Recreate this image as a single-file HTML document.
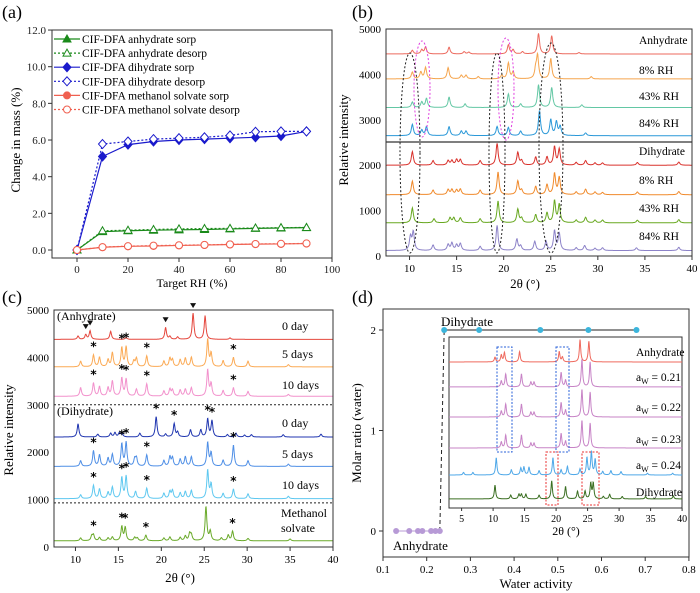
<!DOCTYPE html>
<html><head><meta charset="utf-8"><style>
body{margin:0;background:#fff}
svg{display:block;font-family:"Liberation Serif",serif}
</style></head><body>
<svg id="fig" width="700" height="593" viewBox="0 0 700 593"></svg>
<script>
// ---- Panel (a) data ----
const rhX=[0,10,20,30,40,50,60,70,80,90];
const anhSorp=[0,1.0,1.05,1.08,1.1,1.12,1.15,1.18,1.2,1.22];
const anhDesorp=[0,1.05,1.08,1.12,1.15,1.17,1.18,1.2,1.22,1.23];
const diSorp=[0,5.1,5.75,5.92,6.0,6.05,6.1,6.15,6.22,6.47];
const diDesorp=[0,5.78,5.92,6.05,6.1,6.15,6.25,6.45,6.47,6.47];
const mSorp=[0,0.15,0.2,0.22,0.25,0.27,0.3,0.32,0.33,0.35];
const mDesorp=[0,0.16,0.21,0.24,0.26,0.28,0.31,0.33,0.34,0.36];
const aXTicks=[0,20,40,60,80,100];
const aYTicks=[0,2,4,6,8,10,12];
// ---- Panel (b) data ----
const bOffsets=[4450,3900,3270,2650,2000,1350,730,120];
const bLabels=["Anhydrate","8% RH","43% RH","84% RH","Dihydrate","8% RH","43% RH","84% RH"];
const bPeaks=[
[[10.3,80],[11.3,90],[11.7,150],[14.2,150],[15.8,50],[16.3,40],[20.5,200],[21,90],[22,50],[23.7,450],[25.1,400],[28,30]],
[[10.3,150],[11.2,150],[11.7,250],[14.1,250],[15.5,80],[16,80],[17.3,50],[19.8,80],[20.5,350],[21,150],[23.4,200],[23.6,500],[25,450],[29.3,50]],
[[10.3,120],[11.3,120],[11.8,200],[14.2,230],[15.9,80],[20.5,300],[21.8,80],[23.7,500],[25.1,440],[28.3,60]],
[[10.3,250],[11.3,120],[11.8,200],[14.2,200],[15.5,100],[16,100],[19.3,200],[20.5,180],[21.8,100],[23.8,550],[25,350],[25.6,300],[26,200],[28.7,60]],
[[10.3,300],[12.5,100],[14.1,100],[14.5,100],[15,120],[15.4,120],[17.5,100],[19.3,480],[21.5,280],[21.9,100],[23.4,180],[24.6,180],[25.4,400],[25.9,350],[27.7,60],[28.7,100],[29.7,50],[30.5,50],[34.2,60],[38.6,70]],
[[10.3,300],[12.5,100],[14.1,110],[14.5,110],[15,100],[15.4,120],[17.5,100],[19.4,500],[21.5,300],[21.9,100],[23.4,180],[24.6,220],[25.4,460],[25.9,380],[27.7,60],[28.7,120],[29.7,60],[30.5,50],[34.2,60],[38.6,70]],
[[10.3,330],[12.6,90],[14.3,110],[14.7,110],[15.4,110],[17.5,90],[19.4,480],[21.5,300],[21.9,100],[23.4,180],[24.6,220],[25.4,480],[25.9,400],[27.7,60],[28.7,120],[29.7,60],[30.5,60],[34.2,60],[38.6,70]],
[[10.1,300],[10.4,400],[12.5,120],[14.1,130],[14.5,160],[15,120],[15.4,150],[17.5,90],[19.3,550],[21.4,250],[21.8,100],[23.3,200],[24.5,200],[25.4,430],[25.9,380],[27.7,60],[28.6,110],[29.7,50],[30.5,60],[34.1,60],[38.6,70]]
];
const bColors=["#ec6a5e","#f5a54e","#63c7a4","#2a98d8","#d9322c","#f08a2c","#68a820","#8c82c8"];
const bYTicks=[0,1000,2000,3000,4000,5000];
const xrdTicks=[10,15,20,25,30,35,40];
// ---- Panel (c) data ----
const cOffsets=[4380,3800,3180,2320,1700,1020,130];
const cLabels=["0 day","5 days","10 days","0 day","5 days","10 days","Methanol"];
const solv=[[10.6,120],[12.1,250],[12.8,200],[13.8,150],[14.3,300],[15.4,400],[15.9,420],[16.8,120],[17.1,180],[18.3,230],[20.3,120],[21,180],[21.3,150],[22.2,150],[22.8,180],[23.5,200],[25.4,580],[25.8,280],[27.2,130],[28.4,200],[30.1,120],[34.8,50]];
const cPeaks=[
[[10.3,70],[11.2,100],[11.7,180],[14.1,170],[15.9,40],[20.5,250],[21,60],[21.9,50],[23.7,550],[25.1,500],[28,30]],
solv,
[[10.6,180],[12.1,280],[12.8,200],[13.8,180],[14.3,320],[15.4,380],[15.9,360],[17.1,150],[18.3,260],[20.3,110],[21,150],[21.3,130],[22.2,130],[22.8,150],[23.5,180],[25.4,560],[25.8,260],[27.2,120],[28.4,180],[30.1,100],[34.8,40]],
[[10.3,280],[12.6,60],[14.1,80],[14.6,90],[15.1,80],[15.4,90],[17.5,80],[19.4,430],[20.5,60],[21.5,280],[21.9,100],[23.4,150],[24.6,150],[25.4,380],[25.9,340],[27.7,50],[28.7,80],[29.7,40],[30.5,50],[34.2,50],[38.6,60]],
[[10.6,120],[12.1,330],[12.8,240],[13.8,170],[14.3,250],[15.4,470],[15.9,500],[16.9,150],[17.1,170],[18.3,240],[20.3,120],[21,200],[21.3,180],[22.2,150],[22.8,200],[23.5,200],[25.4,500],[25.8,280],[27.2,130],[28.4,450],[30.1,120],[34.8,50]],
[[10.6,80],[12.1,280],[12.8,200],[13.8,130],[14.3,240],[15.4,440],[15.9,470],[17,150],[18.3,220],[20.3,110],[21,150],[21.3,170],[22.2,120],[22.8,150],[23.5,170],[25.4,600],[25.8,300],[27.2,110],[28.4,200],[30.1,100],[34.8,50]],
[[10.6,60],[11.9,100],[12.1,120],[12.8,70],[13.8,60],[14.3,80],[15.4,300],[15.8,280],[16.9,70],[17.2,60],[18.2,120],[20.3,60],[21,80],[22.2,70],[22.8,100],[23.3,150],[23.5,120],[25.2,720],[25.7,200],[27,60],[27.8,120],[28.3,200],[30.1,50],[35,40]]
];
const cColors=["#e5473d","#fbaa55","#f291cc","#2036b0","#4f8fe6","#5ec8f0","#6aaa2a"];
const cStars=[[],[12.1,15.4,15.9,18.3,28.4],[12.1,15.4,15.9,18.3,28.4],[19.4,21.5,25.4,25.9],[12.1,15.4,15.9,18.3,28.4],[12.1,15.4,15.9,18.3,28.4],[12.1,15.4,15.8,18.2,28.3]];
const cTriangles=[11.2,11.7,20.5,23.7];
// ---- Panel (d) data ----
const dihAw=[0.24,0.32,0.46,0.57,0.68];
const anhAw=[0.13,0.16,0.18,0.19,0.21,0.22,0.23];
const dXTicks=[0.1,0.2,0.3,0.4,0.5,0.6,0.7,0.8];
const dYTicks=[0,1,2];
const insetTicks=[5,10,15,20,25,30,35,40];
const insetOffsets=[854,708,532,351,193,53];
const insetLabels=["Anhydrate","0.21","0.22","0.23","0.24","Dihydrate"];
const purp=[[11.3,35],[12,75],[14.5,75],[16,28],[16.5,28],[20.8,85],[21.5,40],[24.1,160],[25.4,145]];
const insetPeaks=[
[[10.3,28],[11.3,40],[11.8,55],[14.2,60],[20.5,60],[21,28],[23.8,130],[25.2,120]],
purp,purp,purp,
[[5.3,15],[6.8,15],[10.5,100],[12.9,30],[14.4,40],[14.9,45],[15.7,45],[17.3,25],[19.5,100],[20.8,30],[21.8,50],[23.8,35],[24.9,100],[25.6,135],[26.2,90],[27.4,20],[28.7,25],[30.3,20],[34.5,10],[38.5,10]],
[[10.3,80],[12.8,22],[14.1,27],[14.5,27],[15.2,27],[17.3,22],[19.3,105],[21.5,72],[23.4,45],[24.6,45],[25.5,90],[25.9,90],[27.5,14],[28.5,27],[30.5,14],[34.2,14],[38.6,18]]
];
const insetColors=["#ef6a5e","#c783c6","#c783c6","#c783c6","#4fa8e8","#3b6f22"];

const NS="http://www.w3.org/2000/svg";
const svg=document.getElementById('fig');
function el(tag,attrs,parent,text){const e=document.createElementNS(NS,tag);for(const k in attrs)e.setAttribute(k,attrs[k]);if(text!==undefined)e.textContent=text;(parent||svg).appendChild(e);return e;}
function trace(peaks,off,sx,sy,x0,x1,w){let d="";for(let t=x0;t<=x1+1e-9;t+=0.04){let v=off;for(const p of peaks){const u=(t-p[0])/w;v+=p[1]/(1+u*u);}d+=(d?"L":"M")+sx(t).toFixed(1)+","+sy(v).toFixed(1);}return d;}
function peakVal(peaks,off,t,w){let v=off;for(const p of peaks){const u=(t-p[0])/w;v+=p[1]/(1+u*u);}return v;}

// ===== Panel (a) =====
const ax=v=>77+v*2.55, ay=v=>250-v*18.33;
let e;
e=el('text',{x:2,y:18,'font-size':18},svg,"(a)");


e=el('rect',{x:52,y:30,width:280,height:228,fill:'none',stroke:'#333','stroke-width':1});


for(const t of aXTicks){
 e=el('line',{x1:ax(t),x2:ax(t),y1:258,y2:262,stroke:'#333'});
 
 
 e=el('text',{x:ax(t),y:273,'font-size':11,'text-anchor':'middle',fill:'#222'},svg,String(t));
 
 
}
for(const t of aYTicks){
 e=el('line',{x1:48,x2:52,y1:ay(t),y2:ay(t),stroke:'#333'});
 
 
 e=el('text',{x:46,y:ay(t)+4,'font-size':11,'text-anchor':'end',fill:'#222'},svg,t.toFixed(1));
 
 
}
e=el('text',{x:192,y:287,'font-size':12,'text-anchor':'middle'},svg,"Target RH (%)");


e=el('text',{x:0,y:0,'font-size':13,'text-anchor':'middle',transform:'translate(20,140) rotate(-90)'},svg,"Change in mass (%)");


const aSeries=[
 {v:anhSorp,c:'#1a8a1a',dash:'',m:'tri',fill:true,n:'CIF-DFA anhydrate sorp'},
 {v:anhDesorp,c:'#1a8a1a',dash:'2,2',m:'tri',fill:false,n:'CIF-DFA anhydrate desorp'},
 {v:diSorp,c:'#1a1acc',dash:'',m:'dia',fill:true,n:'CIF-DFA dihydrate sorp'},
 {v:diDesorp,c:'#1a1acc',dash:'2,2',m:'dia',fill:false,n:'CIF-DFA dihydrate desorp'},
 {v:mSorp,c:'#f06050',dash:'',m:'cir',fill:true,n:'CIF-DFA methanol solvate  sorp'},
 {v:mDesorp,c:'#f06050',dash:'2,2',m:'cir',fill:false,n:'CIF-DFA methanol solvate desorp'}
];
function marker(type,x,y,c,fill,g){
 const f=fill?c:'#fff';
 if(type==='tri')return el('polygon',{points:`${x},${y-4} ${x-4},${y+3} ${x+4},${y+3}`,fill:f,stroke:c,'stroke-width':1},g);
 if(type==='dia')return el('polygon',{points:`${x},${y-4.5} ${x+4},${y} ${x},${y+4.5} ${x-4},${y}`,fill:f,stroke:c,'stroke-width':1},g);
 return el('circle',{cx:x,cy:y,r:3.5,fill:f,stroke:c,'stroke-width':1},g);
}
aSeries.forEach((s,i)=>{
 const g=el('g',{});
 
 
 e=el('path',{d:s.v.map((v,j)=>(j?'L':'M')+ax(rhX[j])+','+ay(v)).join(''),fill:'none',stroke:s.c,'stroke-width':1.2,'stroke-dasharray':s.dash},g);
 
 
 s.v.forEach((v,j)=>{
  e=marker(s.m,ax(rhX[j]),ay(v),s.c,s.fill,g);
  
  
 });
 const ly=39+i*14.1;
 e=el('line',{x1:54,x2:80,y1:ly,y2:ly,stroke:s.c,'stroke-width':1.2,'stroke-dasharray':s.dash},g);
 
 
 e=marker(s.m,67,ly,s.c,s.fill,g);
 
 
 e=el('text',{x:82,y:ly+4,'font-size':11.5},g,s.n);
 
 
});

// ===== Panel (b) =====
const bx=t=>386+(t-7.5)*9.415, by=v=>256-v*0.0454;
e=el('text',{x:352,y:18,'font-size':18},svg,"(b)");


const bClip=el('clipPath',{id:'cb'});el('rect',{x:386,y:29,width:306,height:227},bClip);
bPeaks.forEach((p,i)=>{
 e=el('path',{d:trace(p,bOffsets[i],bx,by,7.5,40,0.13),fill:'none',stroke:bColors[i],'stroke-width':1,'clip-path':'url(#cb)'});
 
 
 const ty=[44,74,100,127,155,184,212,240][i];
 e=el('text',{x:639,y:ty,'font-size':11.5},svg,bLabels[i]);
 
 
});
e=el('rect',{x:386,y:29,width:306,height:227,fill:'none',stroke:'#333'});


e=el('line',{x1:386,x2:692,y1:142,y2:142,stroke:'#333','stroke-width':1.2});


for(const t of bYTicks){
 e=el('text',{x:381,y:by(t)+4,'font-size':11,'text-anchor':'end'},svg,String(t));
 
 
}
for(const t of xrdTicks){
 e=el('line',{x1:bx(t),x2:bx(t),y1:256,y2:260,stroke:'#333'});
 
 
 e=el('text',{x:bx(t),y:272,'font-size':11,'text-anchor':'middle'},svg,String(t));
 
 
}
e=el('text',{x:525,y:288,'font-size':13,'text-anchor':'middle'},svg,"2θ (°)");


e=el('text',{x:0,y:0,'font-size':13,'text-anchor':'middle',transform:'translate(348,140) rotate(-90)'},svg,"Relative intensity");


[[422,89,8,48,'#e040e0'],[506,89,8,51,'#e040e0'],[410,153,10,100,'#222'],[497,153,8,100,'#222'],[551,148,12,105,'#222']].forEach(q=>{
 e=el('ellipse',{cx:q[0],cy:q[1],rx:q[2],ry:q[3],fill:'none',stroke:q[4],'stroke-width':1,'stroke-dasharray':'2,2'});
 
 
});

// ===== Panel (c) =====
const cx=t=>54+(t-7.5)*8.585, cy=v=>547-v*0.0474;
e=el('text',{x:2,y:303,'font-size':18},svg,"(c)");


const cClip=el('clipPath',{id:'cc'});el('rect',{x:54,y:310,width:279,height:237},cClip);
cPeaks.forEach((p,i)=>{
 e=el('path',{d:trace(p,cOffsets[i],cx,cy,7.5,40,0.12),fill:'none',stroke:cColors[i],'stroke-width':1,'clip-path':'url(#cc)'});
 
 
 const ty=[330,358,389,427,458,489,517][i];
 e=el('text',{x:i===6?281:282,y:ty,'font-size':12},svg,cLabels[i]);
 
 
 cStars[i].forEach(t=>{
  e=el('text',{x:cx(t),y:cy(peakVal(p,cOffsets[i],t,0.12))-4,'font-size':12,'font-weight':'bold','text-anchor':'middle','font-family':'DejaVu Sans, sans-serif'},svg,"*");
  
  
 });
});
cTriangles.forEach(t=>{
 const y=cy(peakVal(cPeaks[0],cOffsets[0],t,0.12))-6;const x=cx(t);
 e=el('polygon',{points:`${x-3},${y-4} ${x+3},${y-4} ${x},${y+1}`,fill:'#111'});
 
 
});
e=el('text',{x:281,y:532,'font-size':12},svg,"solvate");


e=el('text',{x:57,y:320,'font-size':12},svg,"(Anhydrate)");


e=el('text',{x:57,y:415,'font-size':12},svg,"(Dihydrate)");


[3000,930].forEach(v=>{
 e=el('line',{x1:54,x2:333,y1:cy(v),y2:cy(v),stroke:'#222','stroke-dasharray':'2,2'});
 
 
});
e=el('rect',{x:54,y:310,width:279,height:237,fill:'none',stroke:'#333'});


for(const t of bYTicks){
 e=el('text',{x:49,y:cy(t)+4,'font-size':11,'text-anchor':'end'},svg,String(t));
 
 
}
for(const t of xrdTicks){
 e=el('line',{x1:cx(t),x2:cx(t),y1:547,y2:551,stroke:'#333'});
 
 
 e=el('text',{x:cx(t),y:563,'font-size':11,'text-anchor':'middle'},svg,String(t));
 
 
}
e=el('text',{x:180,y:582,'font-size':13,'text-anchor':'middle'},svg,"2θ (°)");


e=el('text',{x:0,y:0,'font-size':13,'text-anchor':'middle',transform:'translate(13,430) rotate(-90)'},svg,"Relative intensity");



// ===== Panel (d) =====
const dx=a=>383+(a-0.1)*437, dy=m=>531-m*100.5;
const ix=t=>449+(t-3)*6.3, iy=v=>508-v*0.171;
e=el('text',{x:352,y:303,'font-size':18},svg,"(d)");


e=el('rect',{x:383,y:309,width:306,height:248,fill:'none',stroke:'#333'});


for(const t of dXTicks){
 e=el('line',{x1:dx(t),x2:dx(t),y1:557,y2:561,stroke:'#333'});
 
 
 e=el('text',{x:dx(t),y:573,'font-size':11,'text-anchor':'middle'},svg,String(t));
 
 
}
for(const t of dYTicks){
 e=el('line',{x1:379,x2:383,y1:dy(t),y2:dy(t),stroke:'#333'});
 
 
 e=el('text',{x:376,y:dy(t)+4,'font-size':11,'text-anchor':'end'},svg,String(t));
 
 
}
e=el('text',{x:536,y:588,'font-size':13,'text-anchor':'middle'},svg,"Water activity");


e=el('text',{x:0,y:0,'font-size':13,'text-anchor':'middle',transform:'translate(361,433) rotate(-90)'},svg,"Molar ratio (water)");


e=el('path',{d:`M${dx(dihAw[0])},${dy(2)}`+dihAw.map(a=>`L${dx(a)},${dy(2)}`).join(''),stroke:'#222',fill:'none'});


e=el('path',{d:`M${dx(anhAw[0])},${dy(0)}L${dx(anhAw[anhAw.length-1])},${dy(0)}`,stroke:'#b79ad6',fill:'none'});


e=el('path',{d:`M${dx(anhAw[anhAw.length-1])},${dy(0)}L${dx(dihAw[0])},${dy(2)}`,stroke:'#222',fill:'none','stroke-dasharray':'4,3'});


dihAw.forEach(a=>{
 e=el('circle',{cx:dx(a),cy:dy(2),r:3,fill:'#3bb5dc'});
 
 
});
anhAw.forEach(a=>{
 e=el('circle',{cx:dx(a),cy:dy(0),r:3,fill:'#b79ad6'});
 
 
});
e=el('text',{x:441,y:326,'font-size':13},svg,"Dihydrate");


e=el('text',{x:393,y:550,'font-size':13},svg,"Anhydrate");


// inset
e=el('rect',{x:449,y:337,width:233,height:171,fill:'#fff',stroke:'#333'});


insetPeaks.forEach((p,i)=>{
 e=el('path',{d:trace(p,insetOffsets[i],ix,iy,3,40,0.13),fill:'none',stroke:insetColors[i],'stroke-width':1});
 
 
 const ty=[356,381,411,443,469,496][i];
 const t=el('text',{x:636,y:ty,'font-size':11.5},svg);
 
 
 if(i===0||i===5){t.textContent=insetLabels[i];}
 else{t.textContent="a";el('tspan',{'font-size':8,dy:3},t,"W");el('tspan',{dy:-3},t," = "+insetLabels[i]);}
});
[[497,347,15,105,'#2a60d8'],[556,347,13,105,'#2a60d8'],[546,452,12,53,'#e83030'],[582,452,17,53,'#e83030']].forEach(q=>{
 e=el('rect',{x:q[0],y:q[1],width:q[2],height:q[3],fill:'none',stroke:q[4],'stroke-dasharray':'2,1.5'});
 
 
});
for(const t of insetTicks){
 e=el('line',{x1:ix(t),x2:ix(t),y1:508,y2:511,stroke:'#333'});
 
 
 e=el('text',{x:ix(t),y:522,'font-size':10,'text-anchor':'middle'},svg,String(t));
 
 
}
e=el('text',{x:566,y:535,'font-size':12,'text-anchor':'middle'},svg,"2θ (°)");


</script>
</body></html>
